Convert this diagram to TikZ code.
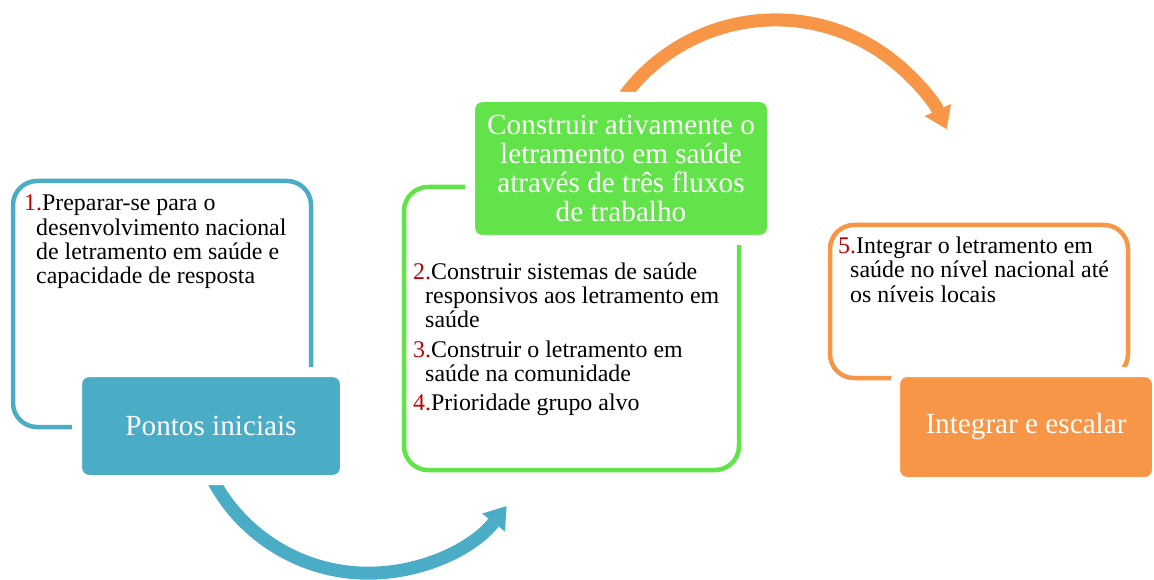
\documentclass[tikz,border=0pt]{standalone}
\usepackage{fontspec}
\setmainfont{Liberation Serif}
\usepackage{tikz}
\usetikzlibrary{arrows.meta}

\definecolor{aqua}{HTML}{4BACC6}
\definecolor{lime}{HTML}{62E34A}
\definecolor{tangerine}{HTML}{F79646}
\definecolor{numred}{HTML}{C00000}
\newcommand{\stepno}[1]{\textcolor{numred}{#1.}}
\newcommand{\contind}{\hspace*{12pt}}

\tikzset{
  loopframe/.style = {draw=#1, line width=4.5pt, rounded corners=24pt, inner sep=0pt},
  stage/.style = {fill=#1, draw=white, line width=10pt, rounded corners=12pt,
    text=white, align=center, font=\fontsize{29.2}{29}\selectfont},
  steps/.style = {anchor=north west, inner sep=0pt, align=left,
    font=\fontsize{23.9}{24.3}\selectfont},
  flow/.style = {draw=#1, line width=13pt,
    -{Triangle[width=29pt, length=21pt, line width=0pt]}}
}

\begin{document}
\begin{tikzpicture}[x=1pt, y=-1pt]
\useasboundingbox (0, 0) rectangle (1154, 580);
% curved arrows between the stages
\coordinate (bluestart) at (214, 482);
\coordinate (orangestart) at (625, 95);
\draw[flow=aqua] (bluestart) arc[start angle=-151.2, end angle=-38.2, radius=176pt];
\draw[flow=tangerine] (orangestart) arc[start angle=143, end angle=24.9, radius=188.6pt];
% frames
\node[loopframe=aqua, minimum width=298pt, minimum height=246pt] (prepframe) at (162, 304) {};
\node[loopframe=lime, minimum width=335pt, minimum height=283pt] (buildframe) at (571.5, 328.5) {};
\node[loopframe=tangerine, minimum width=298pt, minimum height=153pt] (scaleframe) at (979, 301.5) {};
% stages
\node[stage=aqua, minimum width=268pt, minimum height=108pt] (start) at (211, 426) {Pontos iniciais};
\node[stage=lime, minimum width=302pt, minimum height=143pt] (build) at (621, 168.5)
  {Construir ativamente o\\letramento em saúde\\através de três fluxos\\de trabalho};
\node[stage=tangerine, minimum width=262pt, minimum height=110pt] (scale) at (1026, 427) {Integrar e escalar};
% steps
\node[steps] (prep) at (24, 194.8) {\stepno{1}Preparar-se para o\\\contind desenvolvimento nacional\\\contind de letramento em saúde e\\\contind capacidade de resposta};
\node[steps] (streams) at (413, 262.5) {\stepno{2}Construir sistemas de saúde\\\contind responsivos aos letramento em\\\contind saúde\\[5pt]\stepno{3}Construir o letramento em\\\contind saúde na comunidade\\[5pt]\stepno{4}Prioridade grupo alvo};
\node[steps] (levels) at (838, 236.7) {\stepno{5}Integrar o letramento em\\\contind saúde no nível nacional até\\\contind os níveis locais};
\end{tikzpicture}
\end{document}
